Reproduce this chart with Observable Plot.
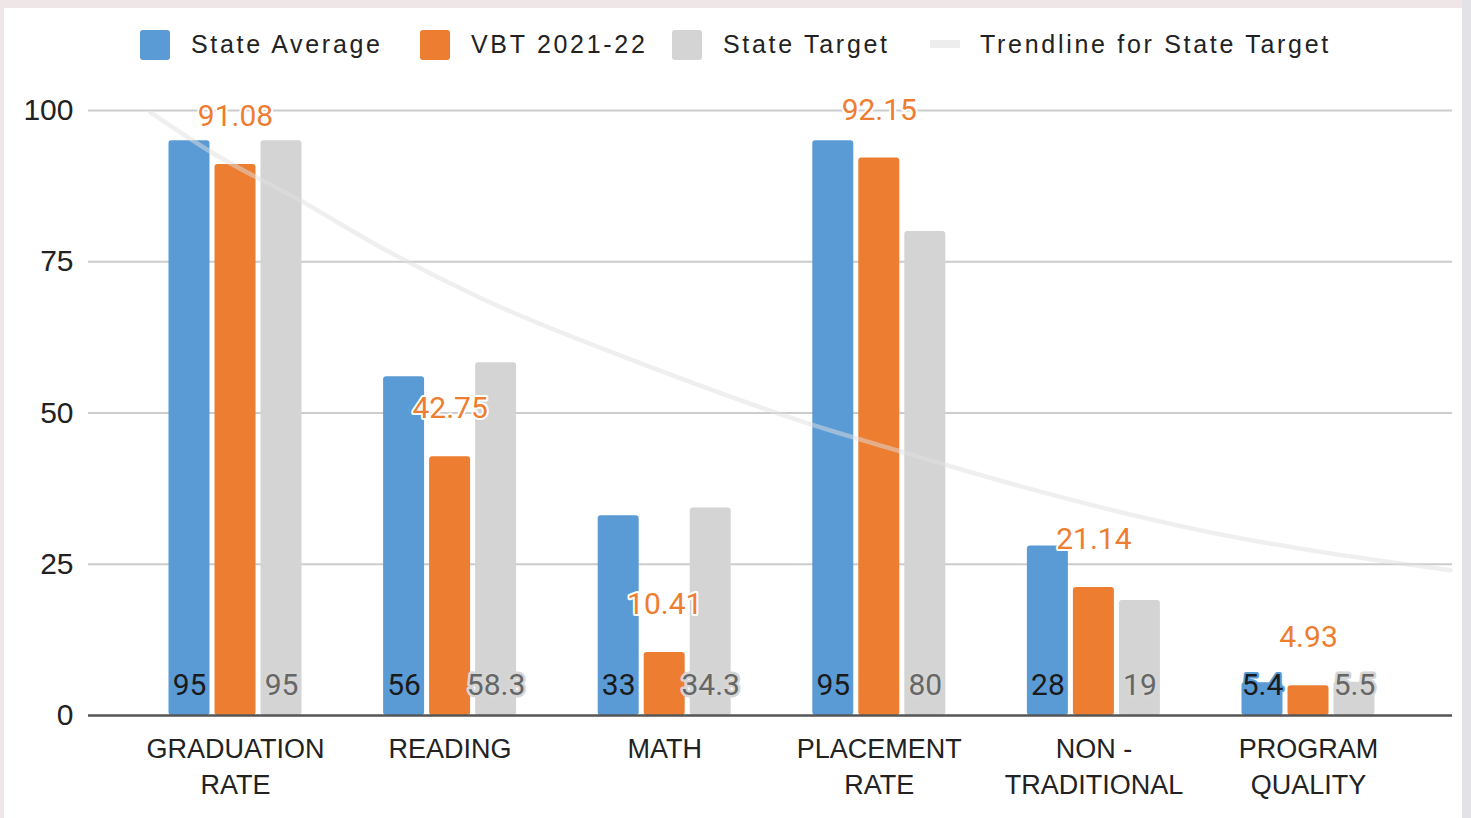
<!DOCTYPE html>
<html><head><meta charset="utf-8">
<script src="https://cdn.jsdelivr.net/npm/d3@7"></script>
<script src="https://cdn.jsdelivr.net/npm/@observablehq/plot@0.6"></script>
<style>
html,body{margin:0;padding:0;width:1471px;height:818px;overflow:hidden;background:#efe7e7;}
#panel{position:absolute;left:4px;top:8px;width:1458px;height:810px;background:#fff;}
#rightstrip{position:absolute;left:1462px;top:0;width:9px;height:818px;background:#e3e3e7;}
.leg{position:absolute;top:29px;font-family:"Liberation Sans",Arial,sans-serif;font-size:25px;letter-spacing:2.7px;color:#222;line-height:30px;white-space:nowrap;}
.sw{position:absolute;top:30px;width:30px;height:30px;border-radius:3px;}
.ln{position:absolute;top:40px;width:30px;height:8px;background:#ececec;}
#chart{position:absolute;left:0;top:80px;}
</style></head>
<body>
<div id="panel"></div><div id="rightstrip"></div>
<div id="legend"></div>
<div id="chart"></div>
<script>
// ---- data ----
const categoryLines = [["GRADUATION","RATE"],["READING"],["MATH"],["PLACEMENT","RATE"],["NON -","TRADITIONAL"],["PROGRAM","QUALITY"]];
const series = ["State Average","VBT 2021-22","State Target"];
const stateAverage = [95, 56, 33, 95, 28, 5.4];
const vbt = [91.08, 42.75, 10.41, 92.15, 21.14, 4.93];
const stateTarget = [95, 58.3, 34.3, 80, 19, 5.5];
const yTicks = [0, 25, 50, 75, 100];
// trendline for State Target (category index, value)
const trendPos = [-0.396, -0.103, 0.303, 0.676, 1.142, 1.920, 2.693, 3.085, 3.565, 4.497, 5.662];
const trendVal = [99.7, 92.9, 85.1, 77.4, 69.0, 57.8, 48.0, 43.8, 38.8, 30.6, 24.0];

// ---- styles ----
const colors = ["#5B9BD5", "#ED7D31", "#D4D4D4"];
const trendColor = "#ededed";

// ---- legend ----
const legend = document.getElementById("legend");
const legItems = [
  {type:"sw", color: colors[0], sx:140, tx:191, label: series[0]},
  {type:"sw", color: colors[1], sx:420, tx:471, label: series[1]},
  {type:"sw", color: colors[2], sx:672, tx:723, label: series[2]},
  {type:"ln", color: trendColor, sx:930, tx:980, label: "Trendline for State Target"}
];
for (const it of legItems) {
  const s = document.createElement("div");
  s.className = it.type; s.style.left = it.sx + "px"; s.style.background = it.color;
  legend.appendChild(s);
  const t = document.createElement("div");
  t.className = "leg"; t.style.left = it.tx + "px"; t.textContent = it.label;
  legend.appendChild(t);
}

// ---- tables ----
const seriesValues = [stateAverage, vbt, stateTarget];
const rows = [];
categoryLines.forEach((c, i) => seriesValues.forEach((arr, s) => rows.push({i, s, value: arr[i]})));
const cats = categoryLines.map((lines, i) => ({i, label: lines.join("\n")}));
const trend = trendPos.map((p, k) => ({pos: p, val: trendVal[k]}));

const GAP = 0.2144, HALF = 0.0955;
const cx = d => d.i + (d.s - 1) * GAP;
const ofS = s => rows.filter(d => d.s === s);

const chart = Plot.plot({
  width: 1471, height: 738,
  marginLeft: 88, marginRight: 19, marginTop: 30, marginBottom: 103,
  style: {background: "transparent", fontFamily: "'Liberation Sans', Arial, sans-serif", fontSize: "30px", color: "#222"},
  x: {domain: [-0.685, 5.671], axis: null},
  y: {domain: [0, 100], ticks: yTicks, tickSize: 0, tickPadding: 15, label: null, tickFormat: d => String(d)},
  marks: [
    Plot.ruleY(yTicks.filter(t => t > 0), {stroke: "#cccccc", strokeWidth: 2}),
    ...[0,1,2].map(s => Plot.rectY(ofS(s), {x1: d => cx(d) - HALF, x2: d => cx(d) + HALF, y1: 0, y2: "value", fill: colors[s], rx: 3})),
    Plot.line(trend, {x: "pos", y: "val", stroke: "#e0e0e0", strokeOpacity: 0.5, strokeWidth: 4.5, curve: "monotone-x"}),
    Plot.ruleY([0], {stroke: "#555", strokeWidth: 2.5}),
    Plot.text(ofS(0), {x: cx, y: 0, dy: -30, text: d => String(d.value), fill: "#1a1a1a", stroke: colors[0], strokeWidth: 4, fontSize: 30, fontFamily: "Roboto", lineAnchor: "middle"}),
    Plot.text(ofS(2), {x: cx, y: 0, dy: -30, text: d => String(d.value), fill: "#666666", stroke: "#d6d6d6", strokeWidth: 5, fontSize: 30, fontFamily: "Roboto", lineAnchor: "middle"}),
    Plot.text(ofS(1), {x: cx, y: "value", dy: -48, text: d => d.value.toFixed(2), fill: colors[1], stroke: "white", strokeWidth: 4, fontSize: 30, fontFamily: "Roboto", lineAnchor: "middle"}),
    Plot.text(cats, {x: "i", y: 0, dy: 17, text: "label", lineAnchor: "top", lineHeight: 1.33, fontSize: 27, fill: "#222"})
  ]
});
document.getElementById("chart").appendChild(chart);
</script>
</body></html>
